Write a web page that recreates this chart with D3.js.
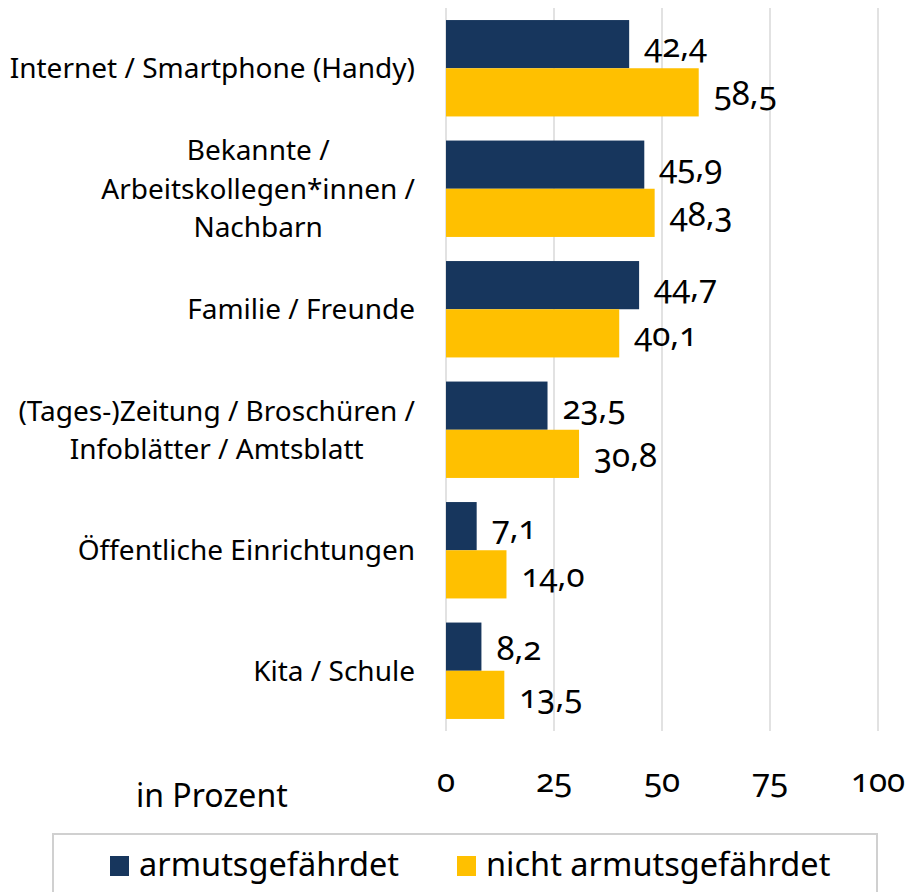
<!DOCTYPE html>
<html><head><meta charset="utf-8">
<script src="https://cdn.jsdelivr.net/npm/d3@7"></script>
<style>
html,body{margin:0;padding:0;background:#fff;}
svg text{font-family:"Noto Sans",sans-serif;font-feature-settings:"onum" 1;font-variant-numeric:oldstyle-nums;fill:#000;}
</style></head>
<body>
<svg id="chart" width="906" height="892"></svg>
<script>
const categories = [
  "Internet / Smartphone (Handy)",
  "Bekannte /\nArbeitskollegen*innen /\nNachbarn",
  "Familie / Freunde",
  "(Tages-)Zeitung / Broschüren /\nInfoblätter / Amtsblatt",
  "Öffentliche Einrichtungen",
  "Kita / Schule"
];
const seriesNames = ["armutsgefährdet", "nicht armutsgefährdet"];
const armutsgefaehrdet = [42.4, 45.9, 44.7, 23.5, 7.1, 8.2];
const nichtArmutsgefaehrdet = [58.5, 48.3, 40.1, 30.8, 14.0, 13.5];
const tickValues = [0, 25, 50, 75, 100];
const colors = ["#17365D", "#FFC000"];

const svg = d3.select("#chart");
const x = d3.scaleLinear().domain([0, 100]).range([446, 878]);
const y = d3.scaleBand().domain(categories).range([8, 731]).paddingInner(0.2).paddingOuter(0.1);
const yi = d3.scaleBand().domain(seriesNames).range([0, y.bandwidth()]);
const fmt = v => v.toFixed(1).replace(".", ",");

// gridlines
svg.append("g").selectAll("line").data(tickValues).join("line")
  .attr("x1", d => x(d)).attr("x2", d => x(d))
  .attr("y1", 8).attr("y2", 731)
  .attr("stroke", "#d9d9d9").attr("stroke-width", 1.5);

// tick labels
svg.append("g").selectAll("text").data(tickValues).join("text")
  .attr("x", d => x(d)).attr("y", 792)
  .attr("text-anchor", "middle").attr("font-size", 33)
  .text(d => d);

const rows = categories.map((c, i) => ({c, vals: [armutsgefaehrdet[i], nichtArmutsgefaehrdet[i]]}));

const g = svg.append("g").selectAll("g").data(rows).join("g")
  .attr("transform", d => `translate(0,${y(d.c)})`);

g.selectAll("rect").data(d => d.vals.map((v, k) => ({v, s: seriesNames[k], k}))).join("rect")
  .attr("x", x(0)).attr("y", d => yi(d.s))
  .attr("width", d => x(d.v) - x(0)).attr("height", yi.bandwidth())
  .attr("fill", d => colors[d.k]);

g.selectAll("text.val").data(d => d.vals.map((v, k) => ({v, s: seriesNames[k], k}))).join("text")
  .attr("class", "val")
  .attr("x", d => x(d.v) + 15).attr("y", d => yi(d.s) + yi.bandwidth() / 2 + 13)
  .attr("font-size", 33)
  .text(d => fmt(d.v));

// category labels
const lineH = 38.5;
svg.append("g").selectAll("text").data(categories).join("text")
  .attr("font-size", 28)
  .each(function(c) {
    const lines = c.split("\n");
    const t = d3.select(this);
    const cy = y(c) + y.bandwidth() / 2;
    const y0 = cy - (lines.length - 1) * lineH / 2 + 10;
    lines.forEach((l, j) => t.append("tspan").attr("y", y0 + j * lineH).text(l));
    let maxW = 0;
    t.selectAll("tspan").each(function() { maxW = Math.max(maxW, this.getComputedTextLength()); });
    t.attr("text-anchor", "middle");
    t.selectAll("tspan").attr("x", 415 - maxW / 2);
  });

// axis title
svg.append("text").attr("x", 136).attr("y", 807).attr("font-size", 32).text("in Prozent");

// legend
svg.append("rect").attr("x", 53).attr("y", 834).attr("width", 824).attr("height", 80)
  .attr("fill", "none").attr("stroke", "#d0d0d0").attr("stroke-width", 2);
const legX = [110, 457];
const leg = svg.append("g").selectAll("g").data(seriesNames).join("g")
  .attr("transform", (d, i) => `translate(${legX[i]},856)`);
leg.append("rect").attr("width", 19).attr("height", 20).attr("fill", (d, i) => colors[i]);
leg.append("text").attr("x", 29).attr("y", 20).attr("font-size", 32.5).text(d => d);
</script>
</body></html>
